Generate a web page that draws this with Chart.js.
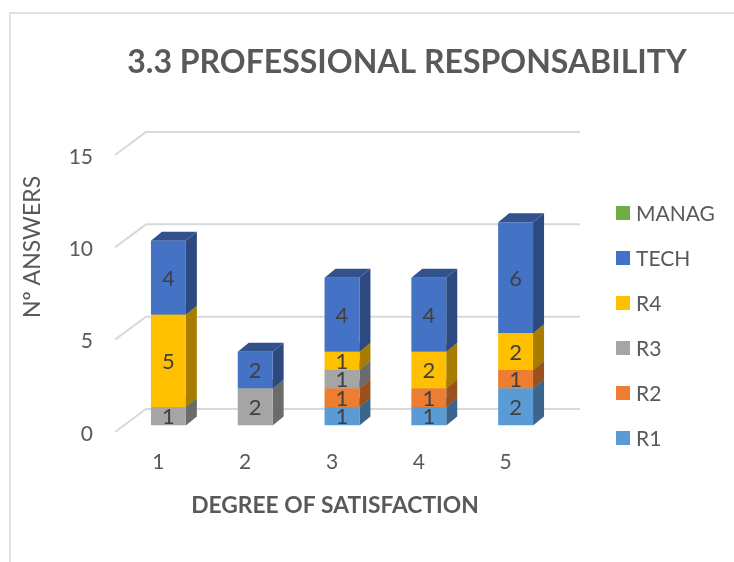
<!DOCTYPE html>
<html lang="en">
<head>
<meta charset="UTF-8">
<title>3.3 Professional Responsability</title>
<script src="https://cdn.jsdelivr.net/npm/chart.js"></script>
<style>
    html, body { margin: 0; padding: 0; background: #fff; }
    #wrap { position: relative; width: 734px; height: 562px; overflow: hidden; }
</style>
</head>
<body>
<div id="wrap"><canvas id="chart" width="734" height="562"></canvas></div>
<script>
const categories = ['1', '2', '3', '4', '5'];
const yTicks = [0, 5, 10, 15];

const r1 = [0, 0, 1, 1, 2];
const r2 = [0, 0, 1, 1, 1];
const r3 = [1, 2, 1, 0, 0];
const r4 = [5, 0, 1, 2, 2];
const tech = [4, 2, 4, 4, 6];
const manag = [0, 0, 0, 0, 0];

const titleText = '3.3 PROFESSIONAL RESPONSABILITY';
const yTitle = 'Nº ANSWERS';
const xTitle = 'DEGREE OF SATISFACTION';

const FONT = 'Lato, sans-serif';
const TEXT = '#595959';

function shade(hex, f) {
    const n = parseInt(hex.slice(1), 16);
    const c = [n >> 16, (n >> 8) & 255, n & 255].map(v => Math.round(v * f));
    return `rgb(${c[0]},${c[1]},${c[2]})`;
}

function text(ctx, str, x, y, font, color, rotate) {
    ctx.save();
    ctx.translate(x, y);
    if (rotate) ctx.rotate(rotate);
    ctx.font = font;
    ctx.fillStyle = color;
    ctx.textAlign = 'center';
    ctx.textBaseline = 'middle';
    ctx.fillText(str, 0, 0);
    ctx.restore();
}

// the fake 3d: bars sit a bit behind the front axis edge, walls further back
const BAR_DX = 10, BAR_DY = -6.5;
const DEPTH_X = 11, DEPTH_Y = -9;
const WALL_DX = 31, WALL_DY = -23;

const depthPlugin = {
    id: 'depth',
    beforeDraw(chart) {
        // frame of the pasted chart, only top and left show
        const { ctx } = chart;
        ctx.save();
        ctx.strokeStyle = '#e0e0e0';
        ctx.lineWidth = 2;
        ctx.beginPath();
        ctx.moveTo(10, 562);
        ctx.lineTo(10, 13);
        ctx.lineTo(734, 13);
        ctx.stroke();
        ctx.restore();
    },
    beforeDatasetsDraw(chart) {
        const { ctx, scales: { x, y } } = chart;
        ctx.save();
        ctx.strokeStyle = '#d9d9d9';
        ctx.lineWidth = 2;
        yTicks.forEach(v => {
            const py = y.getPixelForValue(v);
            ctx.beginPath();
            ctx.moveTo(x.left, py);
            ctx.lineTo(x.left + WALL_DX, py + WALL_DY);
            ctx.lineTo(x.right + WALL_DX, py + WALL_DY);
            ctx.stroke();
        });
        ctx.restore();

        // shift bars for the native draw, undone in afterDatasetsDraw
        ctx.save();
        ctx.translate(BAR_DX, BAR_DY);
        chart.data.datasets.forEach((ds, i) => {
            chart.getDatasetMeta(i).data.forEach((bar, j) => {
                if (!ds.data[j]) return;
                const { x: cx, y: top, base, width } = bar.getProps(['x', 'y', 'base', 'width'], true);
                const right = cx + width / 2;
                ctx.fillStyle = shade(ds.backgroundColor, 0.65);
                ctx.beginPath();
                ctx.moveTo(right, top);
                ctx.lineTo(right + DEPTH_X, top + DEPTH_Y);
                ctx.lineTo(right + DEPTH_X, base + DEPTH_Y);
                ctx.lineTo(right, base);
                ctx.closePath();
                ctx.fill();
                ctx.fillStyle = shade(ds.backgroundColor, 0.72);
                ctx.beginPath();
                ctx.moveTo(right - width, top);
                ctx.lineTo(right - width + DEPTH_X, top + DEPTH_Y);
                ctx.lineTo(right + DEPTH_X, top + DEPTH_Y);
                ctx.lineTo(right, top);
                ctx.closePath();
                ctx.fill();
            });
        });
    },
    afterDatasetsDraw(chart) {
        const { ctx } = chart;
        chart.data.datasets.forEach((ds, i) => {
            chart.getDatasetMeta(i).data.forEach((bar, j) => {
                if (!ds.data[j]) return;
                const c = bar.getCenterPoint();
                text(ctx, String(ds.data[j]), c.x, c.y + 1, '22px ' + FONT, '#404040');
            });
        });
        ctx.restore();
    },
    afterDraw(chart) {
        const { ctx } = chart;
        text(ctx, titleText, 407, 63, 'bold 32px ' + FONT, TEXT);
        text(ctx, yTitle, 33, 247, '23px ' + FONT, TEXT, -Math.PI / 2);
        text(ctx, xTitle, 335, 506, 'bold 22.8px ' + FONT, TEXT);

        // legend runs top down, reverse of the stack order
        [...chart.data.datasets].reverse().forEach((ds, i) => {
            const py = 213 + i * 45;
            ctx.fillStyle = ds.backgroundColor;
            ctx.fillRect(616, py - 7, 14, 14);
            ctx.save();
            ctx.font = '21px ' + FONT;
            ctx.fillStyle = TEXT;
            ctx.textBaseline = 'middle';
            ctx.fillText(ds.label, 636, py + 1);
            ctx.restore();
        });
    }
};

new Chart(document.getElementById('chart'), {
    type: 'bar',
    data: {
        labels: categories,
        datasets: [
            { label: 'R1', data: r1, backgroundColor: '#5B9BD5' },
            { label: 'R2', data: r2, backgroundColor: '#ED7D31' },
            { label: 'R3', data: r3, backgroundColor: '#A5A5A5' },
            { label: 'R4', data: r4, backgroundColor: '#FFC000' },
            { label: 'TECH', data: tech, backgroundColor: '#4472C4' },
            { label: 'MANAG', data: manag, backgroundColor: '#70AD47' }
        ]
    },
    options: {
        responsive: false,
        animation: false,
        events: [],
        layout: { padding: { top: 155, right: 185, left: 0, bottom: 0 } },
        barPercentage: 0.402,
        categoryPercentage: 1,
        plugins: { legend: { display: false }, tooltip: { enabled: false } },
        scales: {
            x: {
                stacked: true,
                grid: { display: false, drawTicks: false },
                border: { display: false },
                ticks: { color: TEXT, font: { family: FONT, size: 21 }, padding: 18, maxRotation: 0 },
                afterFit(s) { s.height = 130; }
            },
            y: {
                stacked: true,
                min: 0,
                max: 15,
                grid: { display: false, drawTicks: false },
                border: { display: false },
                afterBuildTicks(s) { s.ticks = yTicks.map(v => ({ value: v })); },
                ticks: { color: TEXT, font: { family: FONT, size: 21 }, padding: 22, labelOffset: 2 },
                afterFit(s) { s.width = 115; }
            }
        }
    },
    plugins: [depthPlugin]
});
</script>
</body>
</html>
